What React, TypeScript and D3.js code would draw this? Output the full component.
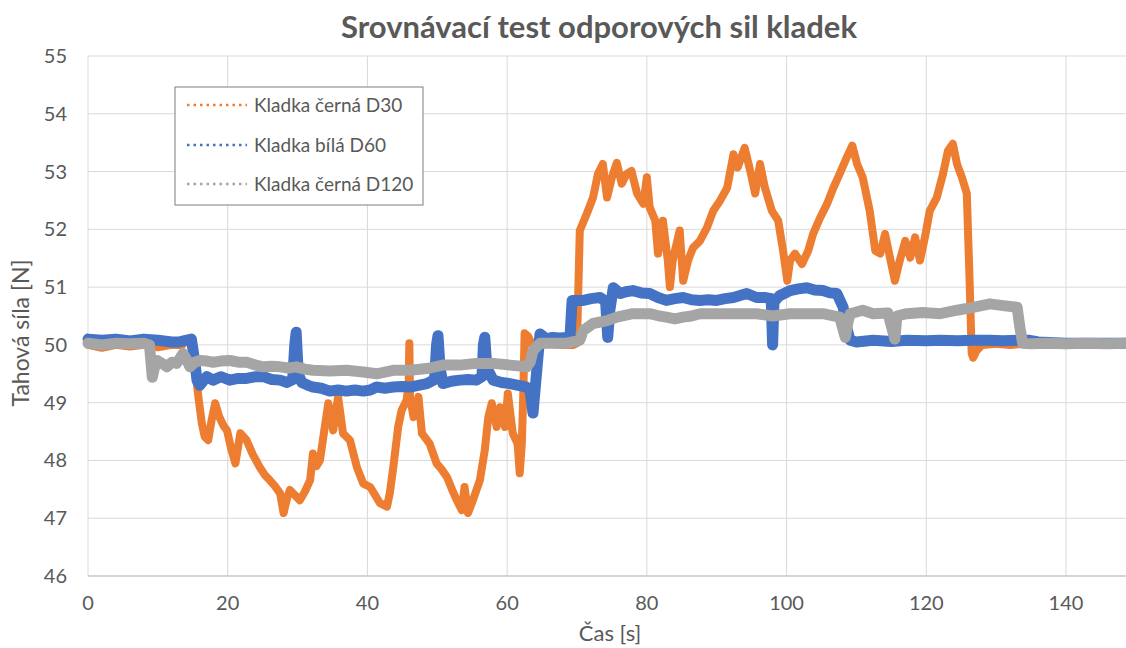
import React from "react";
import * as d3 from "d3";

const TITLE = "Srovnávací test odporových sil kladek";
const X_TITLE = "Čas [s]";
const Y_TITLE = "Tahová síla [N]";
const SERIES_NAMES = ["Kladka černá D30", "Kladka bílá D60", "Kladka černá D120"];
const X_TICKS = [0, 20, 40, 60, 80, 100, 120, 140];
const Y_TICKS = [46, 47, 48, 49, 50, 51, 52, 53, 54, 55];

const timeD30 = [0, 2, 4, 6, 8, 10, 12, 13.5, 14.2, 14.8, 15.3, 15.8, 16.3, 16.7, 17.2, 17.7, 18.2, 18.8, 19.4, 19.9, 20.5, 21.1, 21.8, 22.7, 23.6, 24.6, 25.3, 26, 26.8, 27.5, 28, 28.5, 28.9, 29.6, 30.3, 31, 31.8, 32.2, 32.7, 33.2, 33.8, 34.4, 35.1, 35.8, 36.5, 37.5, 38.5, 39.4, 40.4, 41.8, 42.8, 43.2, 43.7, 44.4, 44.9, 45.6, 45.9, 46.0, 46.1, 46.6, 47.3, 47.8, 48.9, 49.9, 50.6, 51.4, 52.1, 52.8, 53.5, 53.9, 54.4, 55.1, 56.1, 56.8, 57.3, 57.8, 58.5, 59, 59.7, 60.1, 60.8, 61.5, 61.8, 62.1, 62.3, 62.5, 63.0, 63.7, 64.5, 66, 68, 69.5, 70.0, 70.4, 71.4, 72.3, 73, 73.7, 74.3, 75, 75.7, 76.4, 77.1, 77.8, 78.6, 79.5, 80, 80.4, 81.2, 81.6, 82.3, 83, 83.3, 83.7, 84.7, 85.2, 85.9, 86.6, 87.6, 88.6, 89.5, 90.5, 91.5, 92.4, 93, 94, 94.8, 95.5, 96.2, 96.9, 97.9, 98.8, 99.5, 100.1, 100.5, 101.2, 102.2, 103.1, 103.8, 104.8, 105.8, 106.7, 107.6, 108.6, 109.4, 110.1, 110.9, 111.9, 112.7, 113.4, 114.1, 114.8, 115.5, 116.2, 117, 117.7, 118.4, 119.1, 119.8, 120.5, 121.5, 122.4, 123.1, 123.8, 124.4, 125.1, 125.8, 126, 126.2, 126.5, 126.7, 127.2, 128, 130, 132, 134, 136, 140, 145, 150];
const valuesD30 = [50.0, 49.95, 50.0, 49.97, 50.0, 49.96, 50.0, 50.0, 50.1, 50.05, 49.62, 49.1, 48.64, 48.41, 48.35, 48.7, 48.99, 48.75, 48.6, 48.52, 48.2, 47.95, 48.47, 48.35, 48.1, 47.88, 47.75, 47.66, 47.55, 47.43, 47.09, 47.35, 47.49, 47.4, 47.31, 47.45, 47.66, 48.12, 47.9, 48.0, 48.5, 48.99, 48.52, 49.1, 48.47, 48.35, 47.88, 47.6, 47.54, 47.26, 47.2, 47.43, 47.88, 48.58, 48.87, 49.04, 49.3, 50.03, 49.1, 48.75, 49.1, 48.47, 48.29, 47.95, 47.85, 47.71, 47.5, 47.31, 47.14, 47.54, 47.09, 47.31, 47.66, 48.18, 48.75, 48.99, 48.58, 48.92, 48.58, 49.16, 48.47, 48.29, 47.78, 48.29, 49.1, 50.2, 50.15, 49.96, 50.0, 50.02, 50.0, 50.0, 50.03, 51.98, 52.27, 52.55, 52.96, 53.13, 52.55, 52.9, 53.15, 52.79, 52.96, 53.01, 52.62, 52.44, 52.9, 52.38, 52.15, 51.58, 52.15, 51.46, 51.0, 51.46, 51.98, 51.11, 51.46, 51.68, 51.8, 52.03, 52.32, 52.5, 52.72, 53.3, 53.07, 53.41, 53.01, 52.62, 53.13, 52.72, 52.32, 52.15, 51.63, 51.11, 51.46, 51.58, 51.4, 51.63, 51.92, 52.2, 52.44, 52.72, 52.96, 53.24, 53.45, 53.13, 52.9, 52.32, 51.63, 51.58, 51.92, 51.51, 51.11, 51.46, 51.8, 51.51, 51.86, 51.46, 51.86, 52.32, 52.55, 52.96, 53.36, 53.48, 53.13, 52.9, 52.62, 51.86, 51.11, 49.85, 49.78, 49.9, 50.0, 50.02, 50.0, 50.02, 50.0, 50.0, 50.0, 50.0];

const timeD60 = [0, 2, 4, 6, 8, 10, 12, 13, 14, 14.8, 15.3, 15.6, 16, 17, 17.9, 19, 20.3, 21.5, 22.7, 24, 25.1, 26.3, 27.5, 28.5, 29.3, 29.6, 29.8, 30.1, 30.6, 31.5, 32.2, 33.4, 34.6, 35.8, 37, 38.2, 39.4, 40.4, 41.3, 42.5, 43.7, 45, 46.1, 47.3, 48.5, 49.6, 49.9, 50.1, 50.4, 50.8, 52, 53.2, 54.4, 55.6, 56.4, 56.6, 56.8, 57.1, 58, 59.2, 60.4, 61.6, 62.8, 63.3, 63.7, 64.2, 64.7, 65.7, 66.5, 67.5, 68.5, 69.0, 69.3, 70.1, 70.9, 72, 73.3, 74.1, 74.4, 74.7, 75.2, 76.2, 77, 78, 79.2, 80.4, 81.6, 82.8, 84, 85.2, 86.4, 87.6, 88.8, 90, 91.2, 92.4, 94.3, 95.7, 97, 97.8, 98, 98.2, 99, 100.5, 101.7, 102.9, 104, 105.2, 106.2, 107.2, 108.1, 108.6, 109.1, 110, 112.4, 115, 117.2, 120, 122, 124.5, 126.7, 129, 131, 133, 134.8, 136, 140, 145, 150];
const valuesD60 = [50.1, 50.08, 50.1, 50.07, 50.1, 50.08, 50.05, 50.05, 50.08, 50.1, 49.7, 49.39, 49.3, 49.45, 49.39, 49.45, 49.39, 49.42, 49.42, 49.45, 49.45, 49.4, 49.39, 49.35, 49.4, 50.0, 50.22, 49.5, 49.35, 49.3, 49.27, 49.25, 49.2, 49.22, 49.2, 49.22, 49.2, 49.22, 49.27, 49.25, 49.27, 49.28, 49.27, 49.3, 49.33, 49.4, 50.0, 50.16, 49.6, 49.33, 49.37, 49.39, 49.4, 49.39, 49.45, 50.0, 50.13, 49.6, 49.39, 49.35, 49.33, 49.3, 49.27, 49.2, 48.82, 49.5, 50.19, 50.1, 50.13, 50.12, 50.13, 50.15, 50.77, 50.77, 50.77, 50.8, 50.82, 50.75, 50.13, 50.6, 50.99, 50.89, 50.92, 50.94, 50.9, 50.89, 50.82, 50.77, 50.8, 50.82, 50.78, 50.77, 50.78, 50.77, 50.8, 50.82, 50.89, 50.82, 50.82, 50.8, 50.0, 50.75, 50.85, 50.94, 50.97, 50.99, 50.95, 50.94, 50.9, 50.89, 50.65, 50.3, 50.08, 50.05, 50.08, 50.06, 50.08, 50.07, 50.08, 50.07, 50.08, 50.08, 50.07, 50.08, 50.08, 50.05, 50.03, 50.03, 50.03];

const timeD120 = [0, 2, 4, 6, 8, 8.8, 9.2, 9.5, 9.9, 10.6, 11.3, 12, 12.7, 13.6, 14.1, 14.6, 15.3, 16, 17, 17.9, 19, 20.3, 21.5, 22.7, 24, 25.1, 26.3, 27.5, 28.7, 29.8, 31, 32.2, 34.6, 37, 39.4, 41.3, 43.7, 46.1, 48.5, 50.8, 53.2, 55.6, 58, 60.4, 62.8, 63.3, 63.7, 64.7, 66.1, 68.5, 70.4, 70.9, 72.3, 74.3, 75.7, 78, 80.4, 81.8, 82.8, 84, 85.2, 86.4, 87.6, 90, 92.4, 94.3, 95.7, 98, 100.5, 102.9, 105.2, 107.6, 108.4, 108.8, 109.1, 110.9, 112.4, 114.5, 115.5, 115.8, 117.2, 119.5, 122, 124.4, 126.7, 129.1, 131, 133, 133.4, 133.8, 135, 137, 140, 143, 146, 150];
const valuesD120 = [50.03, 50.0, 50.03, 50.02, 50.03, 50.0, 49.44, 49.6, 49.73, 49.68, 49.62, 49.7, 49.68, 49.85, 49.75, 49.62, 49.7, 49.73, 49.72, 49.7, 49.72, 49.73, 49.7, 49.7, 49.65, 49.62, 49.63, 49.62, 49.6, 49.62, 49.58, 49.56, 49.55, 49.56, 49.53, 49.5, 49.56, 49.56, 49.59, 49.65, 49.65, 49.68, 49.68, 49.65, 49.62, 49.7, 49.9, 50.03, 50.03, 50.03, 50.08, 50.25, 50.37, 50.42, 50.48, 50.54, 50.54, 50.5, 50.48, 50.45, 50.48, 50.5, 50.54, 50.54, 50.54, 50.54, 50.54, 50.5, 50.54, 50.54, 50.54, 50.48, 50.13, 50.4, 50.54, 50.6, 50.54, 50.55, 50.1, 50.5, 50.54, 50.56, 50.54, 50.6, 50.65, 50.71, 50.68, 50.65, 50.3, 50.03, 50.02, 50.03, 50.02, 50.03, 50.02, 50.03];

const COLORS = ["#ED7D31", "#4472C4", "#A5A5A5"];
const WIDTHS = [8, 11, 11];

const W = 1126;
const H = 648;
const LEFT = 88;
const X140 = 1066;
const TOP = 56;
const BOTTOM = 576;
const FONT = "Lato, 'Open Sans', sans-serif";
const TEXT = "#595959";

export default function App() {
  const x = d3.scaleLinear().domain([0, 140]).range([LEFT, X140]);
  const y = d3.scaleLinear().domain([46, 55]).range([BOTTOM, TOP]);
  const line = d3
    .line<[number, number]>()
    .x((d) => x(d[0]))
    .y((d) => y(d[1]));
  const series = [
    timeD30.map((t, i) => [t, valuesD30[i]] as [number, number]),
    timeD60.map((t, i) => [t, valuesD60[i]] as [number, number]),
    timeD120.map((t, i) => [t, valuesD120[i]] as [number, number]),
  ];
  const legendY = [105, 145, 184];
  return (
    <svg
      width={W}
      height={H}
      style={{ position: "absolute", left: 0, top: 0, background: "#fff" }}
      fontFamily={FONT}
    >
      <rect x={0} y={0} width={W} height={H} fill="#fff" />
      <text x={599} y={38} textAnchor="middle" fontSize={31} fontWeight={700} fill={TEXT}>
        {TITLE}
      </text>
      {Y_TICKS.map((v) => (
        <line key={"gy" + v} x1={LEFT} x2={W} y1={y(v)} y2={y(v)} stroke="#d9d9d9" strokeWidth={1} />
      ))}
      {X_TICKS.map((v) => (
        <line key={"gx" + v} x1={x(v)} x2={x(v)} y1={TOP} y2={BOTTOM} stroke="#d9d9d9" strokeWidth={1} />
      ))}
      <line x1={LEFT} x2={W} y1={BOTTOM} y2={BOTTOM} stroke="#bfbfbf" strokeWidth={1} />
      {Y_TICKS.map((v) => (
        <text key={"ty" + v} x={67} y={y(v) + 7} textAnchor="end" fontSize={20} fill={TEXT}>
          {v}
        </text>
      ))}
      {X_TICKS.map((v) => (
        <text key={"tx" + v} x={x(v)} y={610} textAnchor="middle" fontSize={20} fill={TEXT}>
          {v}
        </text>
      ))}
      <text x={610} y={641} textAnchor="middle" fontSize={22} fill={TEXT}>
        {X_TITLE}
      </text>
      <text
        transform={`translate(29, 333) rotate(-90)`}
        textAnchor="middle"
        fontSize={23}
        fill={TEXT}
      >
        {Y_TITLE}
      </text>
      <g>
        {series.map((s, i) => (
          <path
            key={"s" + i}
            d={line(s) || ""}
            fill="none"
            stroke={COLORS[i]}
            strokeWidth={WIDTHS[i]}
            strokeLinejoin="round"
            strokeLinecap="round"
          />
        ))}
      </g>
      <rect x={175} y={87} width={248} height={118} fill="#fff" stroke="#7f7f7f" strokeWidth={1} />
      {SERIES_NAMES.map((n, i) => (
        <g key={"lg" + i}>
          <line
            x1={187}
            x2={247}
            y1={legendY[i]}
            y2={legendY[i]}
            stroke={COLORS[i]}
            strokeWidth={2.5}
            strokeDasharray="2.5 4"
          />
          <text x={254} y={legendY[i] + 7} fontSize={19} fill={TEXT}>
            {n}
          </text>
        </g>
      ))}
    </svg>
  );
}
